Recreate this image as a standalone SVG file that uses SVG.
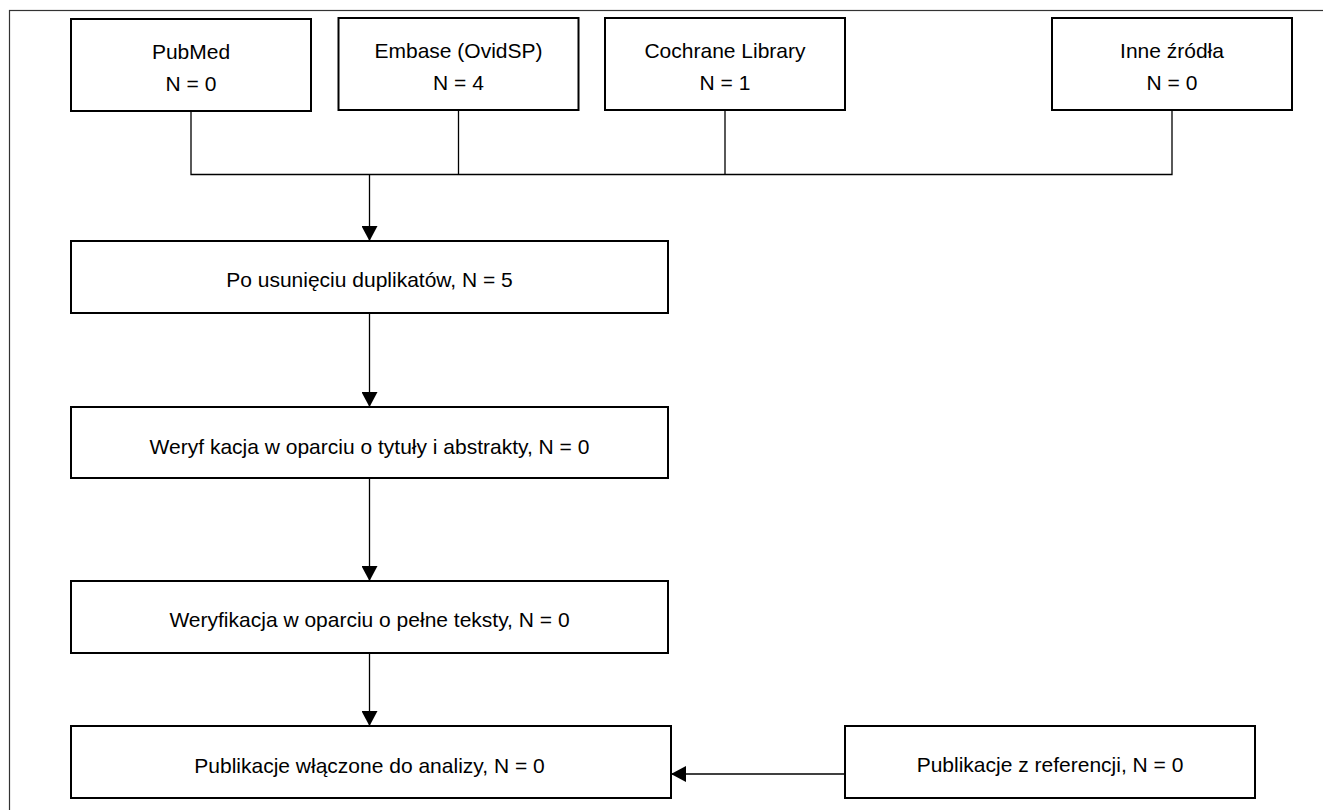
<svg xmlns="http://www.w3.org/2000/svg" width="1323" height="810" viewBox="0 0 1323 810">
<style>
.box{fill:#fff;stroke:#000;stroke-width:2}
.t{font-family:"Liberation Sans",Arial,sans-serif;font-size:21px;fill:#000;text-anchor:middle}
.c{fill:none;stroke:#000;stroke-width:1.3}
.a{fill:none;stroke:#000;stroke-width:1.3;marker-end:url(#ah)}
</style>
<defs>
<marker id="ah" markerUnits="userSpaceOnUse" markerWidth="16" markerHeight="16" refX="15" refY="8" orient="auto" viewBox="0 0 16 16">
<path d="M0,0 L15,8 L0,16 z" fill="#000"/>
</marker>
</defs>
<rect x="9.5" y="10.5" width="1330" height="820" fill="#fff" stroke="#333" stroke-width="1.2"/>
<g id="connectors">
<path class="c" d="M191,111 V174.5 H1172 V110 M458.5,110 V174.5 M725,110 V174.5"/>
<path class="a" d="M369.5,174.5 V241"/>
<path class="a" d="M369.5,313 V407"/>
<path class="a" d="M369.5,478 V581"/>
<path class="a" d="M369.5,653 V726"/>
<path class="a" d="M845,774 H671"/>
</g>
<g id="pubmed">
<rect class="box" x="71" y="19" width="240" height="92"/>
<text class="t" x="191" y="59">PubMed</text>
<text class="t" x="191" y="91">N = 0</text>
</g>
<g id="embase">
<rect class="box" x="338.5" y="18" width="240" height="92"/>
<text class="t" x="458.5" y="58">Embase (OvidSP)</text>
<text class="t" x="458.5" y="90">N = 4</text>
</g>
<g id="cochrane">
<rect class="box" x="605" y="18" width="240" height="92"/>
<text class="t" x="725" y="58">Cochrane Library</text>
<text class="t" x="725" y="90">N = 1</text>
</g>
<g id="inne">
<rect class="box" x="1052" y="18" width="240" height="92"/>
<text class="t" x="1172" y="58">Inne źródła</text>
<text class="t" x="1172" y="90">N = 0</text>
</g>
<g id="duplikaty">
<rect class="box" x="71" y="241" width="597" height="72"/>
<text class="t" x="369.5" y="287">Po usunięciu duplikatów, N = 5</text>
</g>
<g id="abstrakty">
<rect class="box" x="71" y="407" width="597" height="71"/>
<text class="t" x="369.5" y="454">Weryf kacja w oparciu o tytuły i abstrakty, N = 0</text>
</g>
<g id="pelne">
<rect class="box" x="71" y="581" width="597" height="72"/>
<text class="t" x="369.5" y="627">Weryfikacja w oparciu o pełne teksty, N = 0</text>
</g>
<g id="wlaczone">
<rect class="box" x="71" y="726" width="600" height="72"/>
<text class="t" x="369.5" y="773">Publikacje włączone do analizy, N = 0</text>
</g>
<g id="referencje">
<rect class="box" x="845" y="726" width="410" height="72"/>
<text class="t" x="1050" y="772">Publikacje z referencji, N = 0</text>
</g>
</svg>
